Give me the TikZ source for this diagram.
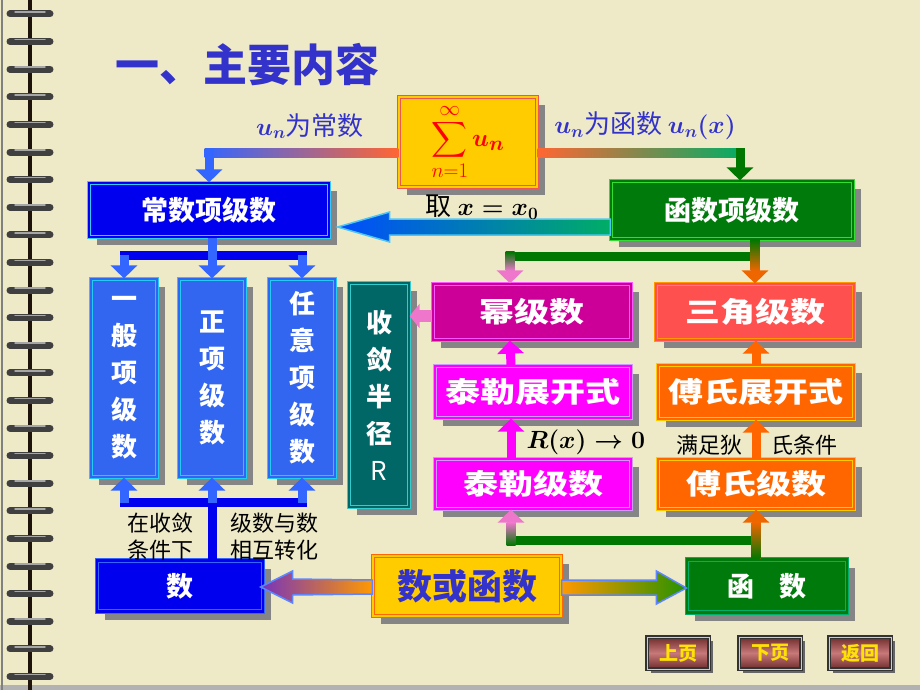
\documentclass[tikz,border=0pt]{standalone}
\usepackage{amsmath}
\usepackage{fontspec}
\setmainfont{Noto Sans CJK SC}
\newfontfamily\brush[FakeStretch=1.25]{Noto Sans CJK SC}
\usetikzlibrary{arrows.meta,calc,shadows}

\definecolor{paper}{HTML}{EEEAC8}
\definecolor{titleblue}{HTML}{3333CC}
\definecolor{cstblue}{HTML}{0000EE}
\definecolor{cstcyan}{HTML}{33CCFF}
\definecolor{fxgreen}{HTML}{007A0A}
\definecolor{fxlight}{HTML}{33DD33}
\definecolor{tallblue}{HTML}{3366F0}
\definecolor{tallcyan}{HTML}{22CCEE}
\definecolor{radteal}{HTML}{006666}
\definecolor{radcyan}{HTML}{33CCCC}
\definecolor{powmag}{HTML}{CC0099}
\definecolor{powpink}{HTML}{FF55FF}
\definecolor{taymag}{HTML}{FF00FF}
\definecolor{taylav}{HTML}{CC99FF}
\definecolor{tricoral}{HTML}{FF5050}
\definecolor{triorange}{HTML}{FF9900}
\definecolor{fouorange}{HTML}{FF6600}
\definecolor{fouyellow}{HTML}{FFCC00}
\definecolor{sumyellow}{HTML}{FFCC00}
\definecolor{sumred}{HTML}{EE5555}
\definecolor{shadowgray}{HTML}{858585}
\definecolor{pipeblue}{HTML}{3366FF}
\definecolor{pipeorange}{HTML}{FF6633}
\definecolor{pipegreen}{HTML}{007700}
\definecolor{arrpink}{HTML}{EE77CC}
\definecolor{arrorange}{HTML}{EE6600}
\definecolor{btnbrown}{HTML}{6E2C2C}
\definecolor{btnlight}{HTML}{C87878}

\begin{document}
\begin{tikzpicture}
    [x=1pt,y=-1pt,
    box/.style 2 args={fill=#1, draw=#2, double=#1, double distance=2.5pt,
        line width=1.2pt, text=white, inner sep=0pt,
        drop shadow={shadow xshift=8pt, shadow yshift=-8pt, fill=shadowgray, opacity=1}},
    hfont/.style={font=\bfseries\fontsize{27}{30}\selectfont},
    bfont/.style={font=\bfseries\brush\fontsize{28}{30}\selectfont},
    vfont/.style={font=\bfseries\fontsize{26}{37}\selectfont, align=center},
    lbl/.style={font=\fontsize{22}{27}\selectfont, align=center},
    pipe/.style={line width=9pt},
    tip/.style={-{Triangle[width=26pt,length=13pt]}},
    btn/.style={draw=black!80, double=gray!40, double distance=1pt, line width=1.5pt,
        top color=btnbrown, bottom color=btnbrown, middle color=btnlight,
        text=yellow!85!orange, font=\bfseries\fontsize{19}{20}\selectfont,
        minimum width=62, minimum height=32, inner sep=0pt,
        drop shadow={shadow xshift=4pt, shadow yshift=-4pt, fill=black!60, opacity=1}}]

    \useasboundingbox (0,0) rectangle (920,690);
    \fill[paper] (0,0) rectangle (920,690);
    \fill[gray!60] (0,685) rectangle (920,690);
    \draw[gray, line width=1.5pt] (2,0) -- (2,690);

    % binding
    \draw[line width=4pt, black!85!brown] (30,0) -- (30,690);
    \foreach \k in {0,...,24}{
        \draw[line width=7pt, line cap=round, black!75] (10,14+27.6*\k) -- (50,14+27.6*\k);
        \draw[line width=1.5pt, line cap=round, gray!70] (15,12+27.6*\k) -- (45,12+27.6*\k);
    }

    \node[font=\bfseries\fontsize{44}{48}\selectfont, text=titleblue] (title) at (247,65) {一、主要内容};

    \node[box={sumyellow}{sumred}, minimum width=138, minimum height=90, text=red] (sum) at (468,142)
        {\fontsize{24.88}{30}\selectfont $\displaystyle\sum_{n=1}^{\infty}\text{\fontsize{30}{32}\selectfont$\boldsymbol{u_n}$}$};

    \node[box={cstblue}{cstcyan}, hfont, minimum width=240, minimum height=54] (cst) at (209,210) {常数项级数};
    \node[box={fxgreen}{fxlight}, hfont, minimum width=242, minimum height=58] (fxs) at (732,210) {函数项级数};

    \node[box={tallblue}{tallcyan}, vfont, minimum width=66, minimum height=198] (gen) at (124,378) {一\\般\\项\\级\\数};
    \node[box={tallblue}{tallcyan}, vfont, minimum width=66, minimum height=198] (pos) at (212,378) {正\\项\\级\\数};
    \node[box={tallblue}{tallcyan}, vfont, minimum width=66, minimum height=198] (arb) at (302,378) {任\\意\\项\\级\\数};
    \node[box={radteal}{radcyan}, vfont, minimum width=60, minimum height=224] (rad) at (379,395) {收\\敛\\半\\径\\$\mathrm{R}$};

    \node[box={powmag}{powpink}, bfont, minimum width=198, minimum height=56] (pow) at (532,312) {幂级数};
    \node[box={tricoral}{triorange}, bfont, minimum width=198, minimum height=56] (tri) at (755,312) {三角级数};
    \node[box={taymag}{taylav}, bfont, minimum width=196, minimum height=52] (tex) at (533,392) {泰勒展开式};
    \node[box={fouorange}{fouyellow}, bfont, minimum width=196, minimum height=54] (fex) at (756,392) {傅氏展开式};
    \node[box={taymag}{taylav}, bfont, minimum width=196, minimum height=50] (tser) at (533,484) {泰勒级数};
    \node[box={fouorange}{fouyellow}, bfont, minimum width=196, minimum height=50] (fser) at (756,484) {傅氏级数};

    \node[box={cstblue}{pipeblue}, hfont, minimum width=166, minimum height=51] (num) at (180,586) {数};
    \node[box={sumyellow}{fouorange}, text=titleblue, font=\bfseries\fontsize{35}{37}\selectfont,
        minimum width=188, minimum height=60] (nof) at (467,586) {数或函数};
    \node[box={fxgreen}{fxgreen!60!cyan}, hfont, minimum width=160, minimum height=53] (fun) at (767,586) {函\hspace{26pt}数};

    \node[btn] (prev) at (678,653) {上页};
    \node[btn] (next) at (770,653) {下页};
    \node[btn] (back) at (860,653) {返回};

    % top connectors
    \shade[left color=pipeblue, right color=pipeorange] ($(cst.north |- sum.west)+(-4.5,6)$) rectangle ($(sum.west)+(0,15)$);
    \draw[pipe, pipeblue, tip] ($(cst.north |- sum.west)+(0,6)$) -- (cst.north);
    \shade[left color=pipeorange, right color=pipegreen!60!cyan] ($(sum.east)+(0,6)$) rectangle ($(fxs.north |- sum.east)+(12.5,15)$);
    \draw[pipe, pipegreen, tip] ($(fxs.north |- sum.east)+(8,6)$) -- ([xshift=8pt]fxs.north);

    \shade[left color=blue!70!cyan, right color=pipegreen!60!cyan, draw=cyan!70, line width=1.5pt]
        ($(cst.east)+(8,17)$) -- ++(52,-15) -- ++(0,7) -- ($(fxs.west)+(0,9)$) -- ($(fxs.west)+(0,25)$)
        -- ($(cst.east)+(60,25)$) -- ++(0,7) -- cycle;

    % left column
    \draw[pipe, line cap=rect, cstblue] ($(gen.north)+(0,-23)$) -- ($(arb.north)+(0,-23)$);
    \draw[pipe, pipeblue, tip] (cst.south -| pos.north) -- (pos.north);
    \draw[pipe, pipeblue, tip] ($(gen.north)+(0,-23)$) -- (gen.north);
    \draw[pipe, pipeblue, tip] ($(arb.north)+(0,-23)$) -- (arb.north);

    \draw[pipe, line cap=rect, cstblue] ($(gen.south)+(0,25)$) -- ($(arb.south)+(0,25)$);
    \draw[pipe, cstblue] (num.north -| pos.south) -- ($(pos.south)+(0,25)$);
    \draw[pipe, pipeblue, tip] ($(gen.south)+(0,25)$) -- (gen.south);
    \draw[pipe, pipeblue, tip] ($(pos.south)+(0,25)$) -- (pos.south);
    \draw[pipe, pipeblue, tip] ($(arb.south)+(0,25)$) -- (arb.south);

    % right column
    \draw[pipe, line cap=rect, pipegreen] ($(pow.north)+(-22,-27)$) -- ($(tri.north)+(0,-27)$);
    \draw[pipe, arrorange, tip] (tri.north |- fxs.south) -- (tri.north);
    \shade[top color=pipegreen, bottom color=arrorange] ($(tri.north |- fxs.south)+(-4.5,0)$) rectangle ($(tri.north)+(4.5,-13)$);
    \draw[pipe, arrpink, tip] ($(pow.north)+(-22,-27)$) -- ([xshift=-22pt]pow.north);
    \shade[top color=pipegreen, bottom color=arrpink] ($(pow.north)+(-26.5,-31.5)$) rectangle ($(pow.north)+(-17.5,-13)$);

    \draw[line width=12pt, arrpink, -{Triangle[width=24pt,length=10pt]}] ($(pow.west)+(0,4)$) -- ($(pow.west -| rad.east)+(0,4)$);

    \draw[pipe, taymag, tip] ([xshift=-22pt]tser.north) -- ([xshift=-22pt]tex.south);
    \draw[pipe, taymag, tip] ([xshift=-22pt]tex.north) -- ([xshift=-22pt]pow.south);
    \draw[pipe, fouorange, tip] (fser.north) -- (fser.north |- fex.south);
    \draw[pipe, fouorange, tip] (fex.north) -- (fex.north |- tri.south);

    \coordinate (jl) at ($(tser.south)+(-22,31)$);
    \coordinate (jr) at ($(fser.south)+(0,31)$);
    \draw[pipe, line cap=rect, pipegreen] (jl) -- (jr);
    \draw[pipe, arrpink, tip] (jl) -- ([xshift=-22pt]tser.south);
    \shade[top color=arrpink, bottom color=pipegreen] ($(jl)+(-4.5,4.5)$) rectangle ($(tser.south)+(-17.5,13)$);
    \draw[pipe, arrorange, tip] (fser.south |- fun.north) -- (fser.south);
    \shade[top color=arrorange, bottom color=pipegreen] ($(fser.south |- fun.north)+(-4.5,0)$) rectangle ($(fser.south)+(4.5,13)$);

    % bottom arrows
    \shade[left color=blue!55!purple!80, right color=orange!80!yellow, draw=pipeblue!80, line width=1.5pt]
        ($(num.east)+(-3,1)$) -- ++(32,-16) -- ++(0,8) -- ($(nof.west)+(0,-6)$) -- ($(nof.west)+(0,8)$)
        -- ($(num.east)+(29,9)$) -- ++(0,8) -- cycle;
    \shade[left color=orange!80!yellow, right color=pipegreen!80!lime, draw=pipeblue!80, line width=1.5pt]
        ($(nof.east)+(0,-6)$) -- ($(fun.west)+(-30,-6)$) -- ++(0,-9) -- ($(fun.west)+(0,2)$)
        -- ($(fun.west)+(-30,18)$) -- ++(0,-9) -- ($(nof.east)+(0,9)$) -- cycle;

    \node[font=\fontsize{26}{28}\selectfont, text=titleblue] (lconst) at (310,126) {$\boldsymbol{u_n}$为常数};
    \node[font=\fontsize{26}{28}\selectfont, text=titleblue] (lfunc) at (645,126) {$\boldsymbol{u_n}$为函数 $\boldsymbol{u_n(x)}$};
    \node[font=\fontsize{26}{28}\selectfont] (lpick) at (482,207) {取 $\boldsymbol{x=x_0}$};
    \node[lbl] (lconv) at (160,537) {在收敛\\条件下};
    \node[lbl] (lswap) at (274,537) {级数与数\\相互转化};
    \node[font=\fontsize{24}{28}\selectfont, anchor=west] (lrem) at (523,442) {$\boldsymbol{R(x)\to 0}$};
    \node[lbl] (ldir) at (709,445) {满足狄};
    \node[lbl] (lcond) at (804,445) {氏条件};

\end{tikzpicture}
\end{document}
